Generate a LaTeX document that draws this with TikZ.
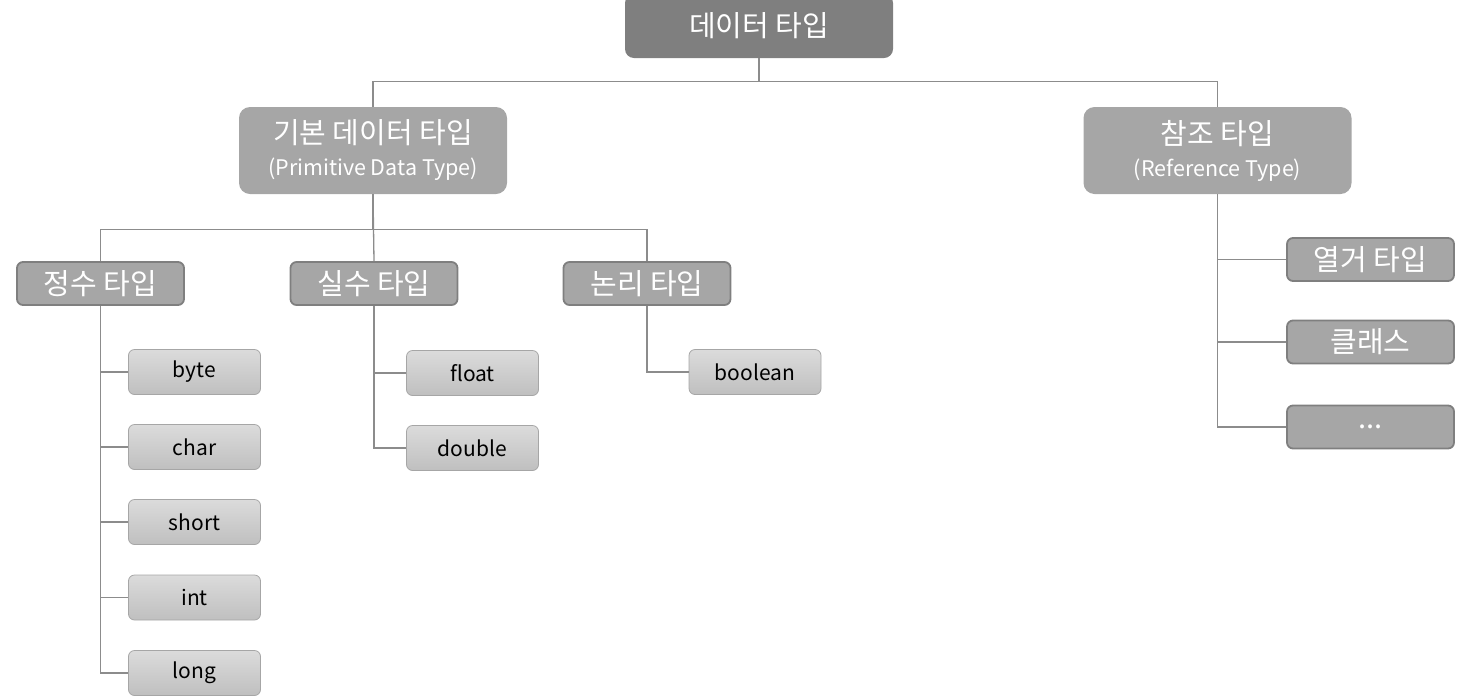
\documentclass[tikz,border=0pt]{standalone}
\usepackage{fontspec}
\setmainfont{Noto Sans CJK KR}
\usetikzlibrary{calc}
\definecolor{darkgr}{HTML}{7F7F7F}
\definecolor{midgr}{HTML}{A6A6A6}
\definecolor{linegr}{HTML}{8C8C8C}
\tikzset{
  topbox/.style={fill=darkgr, text=white, rounded corners=9pt, minimum width=268, minimum height=64,
    inner sep=0pt, font=\fontsize{29}{31}\selectfont},
  groupbox/.style={fill=midgr, text=white, rounded corners=11pt, minimum width=268, minimum height=87,
    inner sep=0pt, align=center, font=\fontsize{21.5}{32}\selectfont},
  kindbox/.style={fill=midgr, draw=darkgr, line width=1.8pt, text=white, rounded corners=6pt,
    minimum width=167, minimum height=43, inner sep=0pt, font=\fontsize{29}{31}\selectfont},
  leafbox/.style={top color=black!14, bottom color=black!25, draw=black!35, line width=0.8pt,
    rounded corners=6pt, minimum width=132, minimum height=45, inner sep=0pt,
    font=\fontsize{21}{24}\selectfont},
  link/.style={draw=linegr, line width=1.3pt}
}
\begin{document}
\begin{tikzpicture}[x=1pt, y=-1pt]
  \useasboundingbox (0,0) rectangle (1464,697);

  %%%%% BOXES %%%%%
  \node[topbox] (data) at (759, 26) {데이터 타입};

  \node[groupbox] (prim) at (373, 150.5) {{\fontsize{29}{31}\selectfont 기본 데이터 타입}\\(Primitive Data Type)};
  \node[groupbox] (ref) at (1217.5, 150.5) {{\fontsize{29}{31}\selectfont 참조 타입}\\(Reference Type)};

  \node[kindbox] (int) at (100.5, 283.5) {정수 타입};
  \node[kindbox] (real) at (374, 283.5) {실수 타입};
  \node[kindbox] (logic) at (647, 283.5) {논리 타입};

  \node[kindbox] (enum) at (1370.5, 259.5) {열거 타입};
  \node[kindbox] (class) at (1370.5, 342) {클래스};
  \node[kindbox] (etc) at (1370.5, 427) {...};

  \node[leafbox] (byte) at (194.5, 372) {byte};
  \node[leafbox] (char) at (194.5, 447) {char};
  \node[leafbox] (short) at (194.5, 522) {short};
  \node[leafbox] (intl) at (194.5, 597.5) {int};
  \node[leafbox] (long) at (194.5, 673) {long};

  \node[leafbox] (float) at (472.5, 373) {float};
  \node[leafbox] (double) at (472.5, 448) {double};

  \node[leafbox] (bool) at (755, 372) {boolean};

  %%%%% LINKS %%%%%
  \draw[link] (data.south) -- ++(0,23) -| (prim.north);
  \draw[link] (data.south) -- ++(0,23) -| (ref.north);

  \draw[link] (prim.south) -- ++(0,35) -| (int.north);
  \draw[link] (prim.south) -- (real.north);
  \draw[link] (prim.south) -- ++(0,35) -| (logic.north);

  \draw[link] (int.south) |- (long.west);
  \foreach \leaf in {byte, char, short, intl}
    \draw[link] (int.south |- \leaf.west) -- (\leaf.west);

  \draw[link] (real.south) |- (double.west);
  \draw[link] (real.south |- float.west) -- (float.west);

  \draw[link] (logic.south) |- (bool.west);

  \draw[link] (ref.south) |- (etc.west);
  \draw[link] (ref.south |- enum.west) -- (enum.west);
  \draw[link] (ref.south |- class.west) -- (class.west);
\end{tikzpicture}
\end{document}
